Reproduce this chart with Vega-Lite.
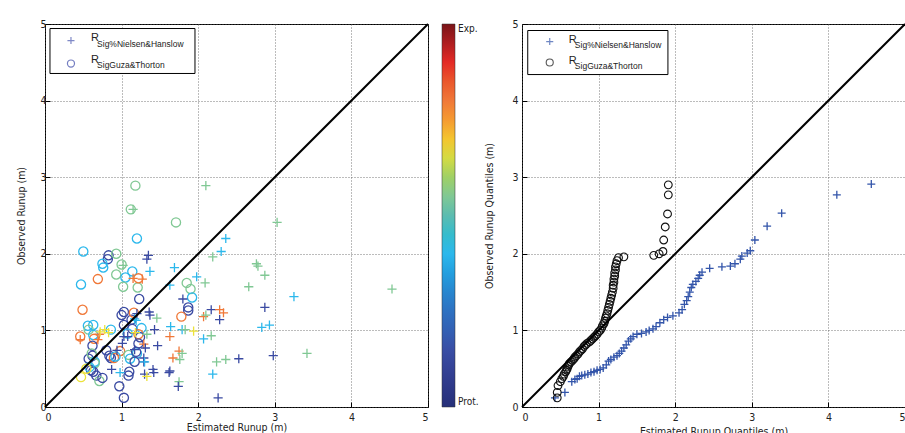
{
  "$schema": "https://vega.github.io/schema/vega-lite/v6.json",
  "padding": {"left": 16, "top": 18, "right": 0, "bottom": 0},
  "background": "white",
  "config": {
    "font": "DejaVu Sans Condensed, Liberation Sans, sans-serif",
    "view": {"stroke": "#000", "strokeWidth": 1},
    "axis": {
      "labelFont": "DejaVu Sans Condensed, Liberation Sans, sans-serif", "labelFontSize": 10.5, "labelColor": "#222",
      "titleFont": "DejaVu Sans Condensed, Liberation Sans, sans-serif", "titleFontSize": 10.5, "titleFontWeight": "normal", "titleColor": "#222",
      "grid": true, "gridDash": [1, 2], "gridColor": "#555", "gridWidth": 0.8,
      "domain": false, "tickSize": -5, "tickColor": "#000", "tickWidth": 1
    },
    "legend": {"labelFont": "DejaVu Sans Condensed, Liberation Sans, sans-serif", "labelFontSize": 10, "labelColor": "#222"}
  },
  "datasets": {
    "scatter": [
      {"m":"G","x":1.18,"y":2.89,"c":0.55},{"m":"G","x":1.12,"y":2.58,"c":0.55},{"m":"G","x":1.71,"y":2.41,"c":0.55},{"m":"G","x":1.20,"y":2.20,"c":0.4},
      {"m":"G","x":0.50,"y":2.03,"c":0.4},{"m":"G","x":0.83,"y":1.98,"c":0.14},{"m":"G","x":0.82,"y":1.93,"c":0.14},{"m":"G","x":0.93,"y":2.00,"c":0.55},
      {"m":"G","x":1.00,"y":1.86,"c":0.55},{"m":"G","x":0.75,"y":1.87,"c":0.4},{"m":"G","x":0.76,"y":1.82,"c":0.4},{"m":"G","x":0.69,"y":1.67,"c":0.8},
      {"m":"G","x":0.93,"y":1.73,"c":0.55},{"m":"G","x":1.05,"y":1.69,"c":0.4},{"m":"G","x":1.14,"y":1.77,"c":0.4},{"m":"G","x":0.47,"y":1.60,"c":0.4},
      {"m":"G","x":1.02,"y":1.57,"c":0.55},{"m":"G","x":1.21,"y":1.56,"c":0.55},{"m":"G","x":1.22,"y":1.68,"c":0.8},{"m":"G","x":1.23,"y":1.41,"c":0.14},
      {"m":"G","x":1.85,"y":1.62,"c":0.55},{"m":"G","x":1.90,"y":1.54,"c":0.55},{"m":"G","x":1.92,"y":1.43,"c":0.4},{"m":"G","x":1.87,"y":1.30,"c":0.14},
      {"m":"G","x":1.87,"y":1.26,"c":0.14},{"m":"G","x":1.78,"y":1.18,"c":0.8},{"m":"G","x":0.49,"y":1.27,"c":0.8},{"m":"G","x":1.03,"y":1.24,"c":0.14},
      {"m":"G","x":1.00,"y":1.20,"c":0.14},{"m":"G","x":1.13,"y":1.14,"c":0.14},{"m":"G","x":1.03,"y":1.07,"c":0.14},{"m":"G","x":1.14,"y":1.02,"c":0.14},
      {"m":"G","x":1.16,"y":1.23,"c":0.8},{"m":"G","x":0.56,"y":1.06,"c":0.4},{"m":"G","x":0.63,"y":1.07,"c":0.4},{"m":"G","x":0.86,"y":1.01,"c":0.4},
      {"m":"G","x":1.26,"y":1.03,"c":0.4},{"m":"G","x":0.57,"y":1.01,"c":0.55},{"m":"G","x":0.46,"y":0.92,"c":0.8},{"m":"G","x":0.64,"y":0.89,"c":0.8},
      {"m":"G","x":0.63,"y":0.94,"c":0.4},{"m":"G","x":1.22,"y":0.95,"c":0.8},{"m":"G","x":1.24,"y":0.91,"c":0.14},{"m":"G","x":1.22,"y":0.83,"c":0.14},
      {"m":"G","x":0.98,"y":0.73,"c":0.8},{"m":"G","x":0.57,"y":0.63,"c":0.14},{"m":"G","x":0.62,"y":0.67,"c":0.14},{"m":"G","x":0.62,"y":0.80,"c":0.14},
      {"m":"G","x":0.61,"y":0.70,"c":0.55},{"m":"G","x":0.80,"y":0.74,"c":0.14},{"m":"G","x":0.84,"y":0.67,"c":0.14},{"m":"G","x":0.86,"y":0.64,"c":0.14},
      {"m":"G","x":0.90,"y":0.64,"c":0.8},{"m":"G","x":1.09,"y":0.68,"c":0.55},{"m":"G","x":1.11,"y":0.63,"c":0.4},{"m":"G","x":1.20,"y":0.70,"c":0.4},
      {"m":"G","x":1.19,"y":0.72,"c":0.14},{"m":"G","x":1.17,"y":0.59,"c":0.14},{"m":"G","x":1.10,"y":0.46,"c":0.14},{"m":"G","x":1.09,"y":0.41,"c":0.14},
      {"m":"G","x":0.65,"y":0.59,"c":0.4},{"m":"G","x":0.65,"y":0.57,"c":0.55},{"m":"G","x":0.60,"y":0.48,"c":0.14},{"m":"G","x":0.63,"y":0.46,"c":0.14},
      {"m":"G","x":0.67,"y":0.41,"c":0.14},{"m":"G","x":0.71,"y":0.34,"c":0.55},{"m":"G","x":0.75,"y":0.38,"c":0.14},{"m":"G","x":0.47,"y":0.39,"c":0.67},
      {"m":"G","x":0.97,"y":0.27,"c":0.14},{"m":"G","x":1.03,"y":0.12,"c":0.14},{"m":"G","x":0.58,"y":0.52,"c":0.4},{"m":"G","x":0.54,"y":0.50,"c":0.67},
      {"m":"G","x":1.08,"y":0.96,"c":0.4},{"m":"G","x":0.92,"y":0.66,"c":0.4},
      {"m":"N","x":2.10,"y":2.89,"c":0.55},{"m":"N","x":1.15,"y":2.58,"c":0.55},{"m":"N","x":2.36,"y":2.20,"c":0.4},{"m":"N","x":2.30,"y":2.03,"c":0.4},
      {"m":"N","x":2.19,"y":1.96,"c":0.55},{"m":"N","x":1.35,"y":1.98,"c":0.14},{"m":"N","x":1.33,"y":1.93,"c":0.14},{"m":"N","x":1.37,"y":1.77,"c":0.4},
      {"m":"N","x":1.69,"y":1.82,"c":0.4},{"m":"N","x":1.02,"y":1.85,"c":0.55},{"m":"N","x":1.15,"y":1.68,"c":0.8},{"m":"N","x":1.27,"y":1.67,"c":0.8},
      {"m":"N","x":1.63,"y":1.59,"c":0.4},{"m":"N","x":1.98,"y":1.70,"c":0.4},{"m":"N","x":2.09,"y":1.62,"c":0.55},{"m":"N","x":2.76,"y":1.87,"c":0.55},
      {"m":"N","x":2.78,"y":1.84,"c":0.55},{"m":"N","x":2.87,"y":1.72,"c":0.55},{"m":"N","x":2.66,"y":1.57,"c":0.55},{"m":"N","x":1.80,"y":1.41,"c":0.14},
      {"m":"N","x":1.36,"y":1.24,"c":0.14},{"m":"N","x":1.37,"y":1.20,"c":0.14},{"m":"N","x":2.17,"y":1.27,"c":0.14},{"m":"N","x":2.28,"y":1.27,"c":0.8},
      {"m":"N","x":2.33,"y":1.23,"c":0.8},{"m":"N","x":2.28,"y":1.14,"c":0.14},{"m":"N","x":2.07,"y":1.18,"c":0.8},{"m":"N","x":2.10,"y":1.20,"c":0.55},
      {"m":"N","x":2.87,"y":1.30,"c":0.14},{"m":"N","x":2.83,"y":1.04,"c":0.4},{"m":"N","x":2.93,"y":1.07,"c":0.4},{"m":"N","x":1.17,"y":1.15,"c":0.4},
      {"m":"N","x":1.19,"y":1.13,"c":0.4},{"m":"N","x":1.46,"y":1.16,"c":0.55},{"m":"N","x":1.20,"y":1.22,"c":0.14},{"m":"N","x":1.64,"y":1.05,"c":0.4},
      {"m":"N","x":1.79,"y":1.01,"c":0.4},{"m":"N","x":1.83,"y":1.01,"c":0.55},{"m":"N","x":1.94,"y":0.99,"c":0.67},{"m":"N","x":1.43,"y":1.01,"c":0.14},
      {"m":"N","x":2.07,"y":0.89,"c":0.4},{"m":"N","x":2.17,"y":0.93,"c":0.55},{"m":"N","x":1.63,"y":0.92,"c":0.8},{"m":"N","x":0.78,"y":1.01,"c":0.67},
      {"m":"N","x":0.83,"y":0.97,"c":0.67},{"m":"N","x":0.71,"y":0.95,"c":0.8},{"m":"N","x":0.69,"y":0.88,"c":0.8},{"m":"N","x":0.46,"y":0.88,"c":0.8},
      {"m":"N","x":1.03,"y":0.92,"c":0.14},{"m":"N","x":1.08,"y":0.92,"c":0.14},{"m":"N","x":1.01,"y":0.83,"c":0.14},{"m":"N","x":1.33,"y":0.95,"c":0.55},
      {"m":"N","x":1.18,"y":0.97,"c":0.67},{"m":"N","x":1.29,"y":0.82,"c":0.8},{"m":"N","x":1.47,"y":0.80,"c":0.14},{"m":"N","x":1.31,"y":0.77,"c":0.14},
      {"m":"N","x":1.75,"y":0.73,"c":0.8},{"m":"N","x":1.79,"y":0.70,"c":0.55},{"m":"N","x":1.67,"y":0.64,"c":0.8},{"m":"N","x":1.76,"y":0.62,"c":0.55},
      {"m":"N","x":0.94,"y":0.74,"c":0.14},{"m":"N","x":1.17,"y":0.75,"c":0.14},{"m":"N","x":1.29,"y":0.64,"c":0.14},{"m":"N","x":1.29,"y":0.59,"c":0.14},
      {"m":"N","x":1.30,"y":0.59,"c":0.4},{"m":"N","x":1.41,"y":0.49,"c":0.14},{"m":"N","x":1.42,"y":0.45,"c":0.14},{"m":"N","x":1.63,"y":0.47,"c":0.14},
      {"m":"N","x":1.62,"y":0.45,"c":0.14},{"m":"N","x":1.30,"y":0.43,"c":0.14},{"m":"N","x":1.33,"y":0.40,"c":0.67},{"m":"N","x":0.87,"y":0.49,"c":0.14},
      {"m":"N","x":0.98,"y":0.45,"c":0.4},{"m":"N","x":2.24,"y":0.59,"c":0.55},{"m":"N","x":2.36,"y":0.62,"c":0.55},{"m":"N","x":2.19,"y":0.43,"c":0.4},
      {"m":"N","x":2.53,"y":0.63,"c":0.14},{"m":"N","x":1.75,"y":0.33,"c":0.55},{"m":"N","x":1.74,"y":0.27,"c":0.14},{"m":"N","x":2.26,"y":0.12,"c":0.14},
      {"m":"N","x":3.03,"y":2.41,"c":0.55},{"m":"N","x":3.25,"y":1.44,"c":0.4},{"m":"N","x":4.53,"y":1.54,"c":0.55},{"m":"N","x":2.98,"y":0.67,"c":0.14},
      {"m":"N","x":3.42,"y":0.70,"c":0.55},{"m":"N","x":0.72,"y":0.98,"c":0.67}
    ],
    "qqN": [
      {"x":0.43,"y":0.12},{"x":0.56,"y":0.19},{"x":0.65,"y":0.33},{"x":0.69,"y":0.36},{"x":0.72,"y":0.37},{"x":0.75,"y":0.40},{"x":0.78,"y":0.41},
      {"x":0.82,"y":0.42},{"x":0.86,"y":0.43},{"x":0.90,"y":0.45},{"x":0.94,"y":0.46},{"x":0.98,"y":0.48},{"x":1.02,"y":0.49},{"x":1.06,"y":0.51},
      {"x":1.10,"y":0.55},{"x":1.13,"y":0.60},{"x":1.16,"y":0.62},{"x":1.20,"y":0.65},{"x":1.24,"y":0.67},{"x":1.27,"y":0.70},{"x":1.30,"y":0.73},
      {"x":1.33,"y":0.77},{"x":1.36,"y":0.81},{"x":1.39,"y":0.86},{"x":1.42,"y":0.89},{"x":1.45,"y":0.92},{"x":1.50,"y":0.95},{"x":1.56,"y":0.96},
      {"x":1.62,"y":0.98},{"x":1.66,"y":1.00},{"x":1.71,"y":1.02},{"x":1.75,"y":1.05},{"x":1.80,"y":1.10},{"x":1.85,"y":1.14},{"x":1.90,"y":1.17},
      {"x":1.97,"y":1.19},{"x":2.05,"y":1.23},{"x":2.09,"y":1.27},{"x":2.12,"y":1.34},{"x":2.15,"y":1.39},{"x":2.17,"y":1.44},{"x":2.19,"y":1.50},
      {"x":2.21,"y":1.56},{"x":2.23,"y":1.60},{"x":2.27,"y":1.64},{"x":2.30,"y":1.68},{"x":2.32,"y":1.72},{"x":2.35,"y":1.76},{"x":2.45,"y":1.81},
      {"x":2.61,"y":1.83},{"x":2.72,"y":1.84},{"x":2.78,"y":1.87},{"x":2.85,"y":1.93},{"x":2.87,"y":1.97},{"x":2.94,"y":2.01},{"x":2.98,"y":2.04},
      {"x":3.04,"y":2.18},{"x":3.20,"y":2.36},{"x":3.39,"y":2.53},{"x":4.11,"y":2.77},{"x":4.56,"y":2.91}
    ],
    "qqG": [
      {"x":0.46,"y":0.12},{"x":0.46,"y":0.19},{"x":0.47,"y":0.28},{"x":0.50,"y":0.33},{"x":0.52,"y":0.37},{"x":0.54,"y":0.40},{"x":0.55,"y":0.43},
      {"x":0.57,"y":0.46},{"x":0.58,"y":0.48},{"x":0.59,"y":0.50},{"x":0.60,"y":0.53},{"x":0.61,"y":0.55},{"x":0.62,"y":0.57},{"x":0.64,"y":0.59},
      {"x":0.66,"y":0.61},{"x":0.68,"y":0.63},{"x":0.69,"y":0.65},{"x":0.71,"y":0.67},{"x":0.73,"y":0.69},{"x":0.75,"y":0.72},{"x":0.77,"y":0.74},
      {"x":0.79,"y":0.76},{"x":0.81,"y":0.79},{"x":0.83,"y":0.81},{"x":0.85,"y":0.83},{"x":0.88,"y":0.85},{"x":0.90,"y":0.87},{"x":0.92,"y":0.89},
      {"x":0.94,"y":0.91},{"x":0.96,"y":0.93},{"x":0.98,"y":0.95},{"x":1.00,"y":0.98},{"x":1.02,"y":1.00},{"x":1.04,"y":1.03},{"x":1.05,"y":1.06},
      {"x":1.07,"y":1.09},{"x":1.08,"y":1.12},{"x":1.09,"y":1.16},{"x":1.10,"y":1.19},{"x":1.11,"y":1.22},{"x":1.12,"y":1.26},{"x":1.13,"y":1.30},
      {"x":1.14,"y":1.34},{"x":1.15,"y":1.38},{"x":1.16,"y":1.42},{"x":1.17,"y":1.46},{"x":1.18,"y":1.50},{"x":1.19,"y":1.55},{"x":1.19,"y":1.59},
      {"x":1.20,"y":1.63},{"x":1.20,"y":1.67},{"x":1.21,"y":1.71},{"x":1.21,"y":1.75},{"x":1.22,"y":1.79},{"x":1.22,"y":1.83},{"x":1.23,"y":1.87},
      {"x":1.24,"y":1.91},{"x":1.26,"y":1.95},{"x":1.33,"y":1.96},{"x":1.72,"y":1.98},{"x":1.79,"y":2.00},{"x":1.84,"y":2.03},{"x":1.85,"y":2.18},
      {"x":1.87,"y":2.35},{"x":1.90,"y":2.52},{"x":1.91,"y":2.77},{"x":1.91,"y":2.90}
    ],
    "one": [{}]
  },
  "spacing": 4,
  "resolve": {"scale": {"color": "independent", "x": "independent", "y": "independent", "shape": "independent"}, "legend": {"color": "independent"}},
  "hconcat": [
    {
      "width": 383, "height": 383,
      "layer": [
        {
          "data": {"name": "scatter"},
          "mark": {"type": "point", "filled": false, "size": 84, "strokeWidth": 1.3, "opacity": 1},
          "encoding": {
            "x": {"field": "x", "type": "quantitative", "scale": {"domain": [0, 5], "nice": false},
                  "axis": {"values": [0,0.5,1,1.5,2,2.5,3,3.5,4,4.5,5], "format": "~g", "title": "Estimated Runup (m)", "labelPadding": 10, "titlePadding": 0}},
            "y": {"field": "y", "type": "quantitative", "scale": {"domain": [0, 5], "nice": false},
                  "axis": {"values": [0,0.5,1,1.5,2,2.5,3,3.5,4,4.5,5], "format": "~g", "title": "Observed Runup (m)", "labelPadding": 4, "titlePadding": 13}},
            "color": {"field": "c", "type": "quantitative",
                      "scale": {"domain": [0, 0.14, 0.28, 0.4, 0.5, 0.55, 0.62, 0.67, 0.73, 0.8, 0.9, 1],
                                "range": ["#262f78", "#3a4aa2", "#2c7cc8", "#2cb8ec", "#5cbcb0", "#80c894", "#b4d050", "#ece23a", "#f6a830", "#f07838", "#e42a26", "#7a1418"]},
                      "legend": {"type": "gradient", "orient": "none", "legendX": 397, "legendY": 0, "direction": "vertical",
                                 "gradientLength": 383, "gradientThickness": 13, "title": null, "values": [0, 1],
                                 "labelExpr": "datum.value == 1 ? 'Exp.' : 'Prot.'", "gradientStrokeColor": "#333", "gradientStrokeWidth": 0.5, "labelOffset": 3}},
            "shape": {"field": "m", "type": "nominal", "scale": {"domain": ["N", "G"], "range": ["M-1,0H1M0,-1V1", "circle"]}, "legend": null}
          }
        },
        {
          "data": {"name": "one"},
          "mark": {"type": "rule", "color": "#000", "strokeWidth": 2},
          "encoding": {"x": {"datum": 0}, "y": {"datum": 0}, "x2": {"datum": 5}, "y2": {"datum": 5}}
        },
        {
          "data": {"name": "one"},
          "mark": {"type": "rect", "fill": "#fff", "stroke": "#000", "strokeWidth": 1},
          "encoding": {"x": {"datum": 0.065}, "x2": {"datum": 1.958}, "y": {"datum": 4.941}, "y2": {"datum": 4.354}}
        },
        {
          "data": {"name": "one"},
          "mark": {"type": "point", "shape": "M-1,0H1M0,-1V1", "filled": false, "size": 50, "strokeWidth": 1.2, "color": "#4a58b0"},
          "encoding": {"x": {"datum": 0.339}, "y": {"datum": 4.784}}
        },
        {
          "data": {"name": "one"},
          "mark": {"type": "point", "shape": "circle", "filled": false, "size": 50, "strokeWidth": 1.2, "color": "#3a48a8"},
          "encoding": {"x": {"datum": 0.339}, "y": {"datum": 4.484}}
        },
        {
          "data": {"name": "one"},
          "mark": {"type": "text", "text": "R", "align": "left", "baseline": "alphabetic", "font": "Liberation Sans", "fontSize": 11, "color": "#222"},
          "encoding": {"x": {"datum": 0.60}, "y": {"datum": 4.778}}
        },
        {
          "data": {"name": "one"},
          "mark": {"type": "text", "text": "Sig%Nielsen&Hanslow", "align": "left", "baseline": "alphabetic", "font": "Liberation Sans", "fontSize": 8.5, "color": "#222"},
          "encoding": {"x": {"datum": 0.68}, "y": {"datum": 4.706}}
        },
        {
          "data": {"name": "one"},
          "mark": {"type": "text", "text": "R", "align": "left", "baseline": "alphabetic", "font": "Liberation Sans", "fontSize": 11, "color": "#222"},
          "encoding": {"x": {"datum": 0.60}, "y": {"datum": 4.488}}
        },
        {
          "data": {"name": "one"},
          "mark": {"type": "text", "text": "SigGuza&Thorton", "align": "left", "baseline": "alphabetic", "font": "Liberation Sans", "fontSize": 8.5, "color": "#222"},
          "encoding": {"x": {"datum": 0.68}, "y": {"datum": 4.423}}
        }
      ]
    },
    {
      "width": 383, "height": 383,
      "layer": [
        {
          "data": {"name": "qqN"},
          "mark": {"type": "point", "shape": "M-1,0H1M0,-1V1", "filled": false, "size": 64, "strokeWidth": 1.3, "color": "#3355aa", "opacity": 1},
          "encoding": {
            "x": {"field": "x", "type": "quantitative", "scale": {"domain": [0, 5], "nice": false},
                  "axis": {"values": [0,0.5,1,1.5,2,2.5,3,3.5,4,4.5,5], "format": "~g", "title": "Estimated Runup Quantiles (m)", "labelPadding": 10, "titlePadding": 4}},
            "y": {"field": "y", "type": "quantitative", "scale": {"domain": [0, 5], "nice": false},
                  "axis": {"values": [0,0.5,1,1.5,2,2.5,3,3.5,4,4.5,5], "format": "~g", "title": "Observed Runup Quantiles (m)", "labelPadding": 9, "titlePadding": 17}}
          }
        },
        {
          "data": {"name": "qqG"},
          "mark": {"type": "point", "shape": "circle", "filled": false, "size": 60, "strokeWidth": 1.1, "color": "#111", "opacity": 1},
          "encoding": {
            "x": {"field": "x", "type": "quantitative"},
            "y": {"field": "y", "type": "quantitative"}
          }
        },
        {
          "data": {"name": "one"},
          "mark": {"type": "rule", "color": "#000", "strokeWidth": 2},
          "encoding": {"x": {"datum": 0}, "y": {"datum": 0}, "x2": {"datum": 5}, "y2": {"datum": 5}}
        },
        {
          "data": {"name": "one"},
          "mark": {"type": "rect", "fill": "#fff", "stroke": "#000", "strokeWidth": 1},
          "encoding": {"x": {"datum": 0.075}, "x2": {"datum": 1.905}, "y": {"datum": 4.915}, "y2": {"datum": 4.34}}
        },
        {
          "data": {"name": "one"},
          "mark": {"type": "point", "shape": "M-1,0H1M0,-1V1", "filled": false, "size": 50, "strokeWidth": 1.2, "color": "#3355aa"},
          "encoding": {"x": {"datum": 0.362}, "y": {"datum": 4.771}}
        },
        {
          "data": {"name": "one"},
          "mark": {"type": "point", "shape": "circle", "filled": false, "size": 50, "strokeWidth": 1.1, "color": "#111"},
          "encoding": {"x": {"datum": 0.362}, "y": {"datum": 4.497}}
        },
        {
          "data": {"name": "one"},
          "mark": {"type": "text", "text": "R", "align": "left", "baseline": "alphabetic", "font": "Liberation Sans", "fontSize": 11, "color": "#222"},
          "encoding": {"x": {"datum": 0.61}, "y": {"datum": 4.758}}
        },
        {
          "data": {"name": "one"},
          "mark": {"type": "text", "text": "Sig%Nielsen&Hanslow", "align": "left", "baseline": "alphabetic", "font": "Liberation Sans", "fontSize": 8.5, "color": "#222"},
          "encoding": {"x": {"datum": 0.69}, "y": {"datum": 4.693}}
        },
        {
          "data": {"name": "one"},
          "mark": {"type": "text", "text": "R", "align": "left", "baseline": "alphabetic", "font": "Liberation Sans", "fontSize": 11, "color": "#222"},
          "encoding": {"x": {"datum": 0.61}, "y": {"datum": 4.484}}
        },
        {
          "data": {"name": "one"},
          "mark": {"type": "text", "text": "SigGuza&Thorton", "align": "left", "baseline": "alphabetic", "font": "Liberation Sans", "fontSize": 8.5, "color": "#222"},
          "encoding": {"x": {"datum": 0.69}, "y": {"datum": 4.418}}
        }
      ]
    }
  ]
}
